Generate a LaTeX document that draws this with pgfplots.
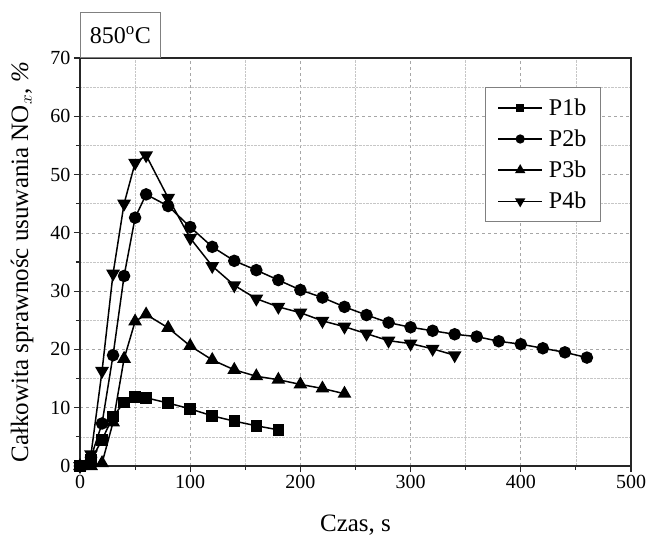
\documentclass[border=0pt]{standalone}
\usepackage{fontspec}
\setmainfont{Liberation Serif}
\usepackage{pgfplots}
\pgfplotsset{compat=1.18}
\usetikzlibrary{calc}

\begin{document}
\begin{tikzpicture}
\begin{axis}[
    scale only axis,
    width=551pt, height=408pt,
    xmin=0, xmax=500, ymin=0, ymax=70,
    xtick={0,100,...,500}, ytick={0,10,...,70},
    minor tick num=1,
    tick align=outside,
    xtick pos=left, ytick pos=left,
    major tick length=6pt, minor tick length=4pt,
    axis line style={line width=1.3pt, black!85},
    tick style={line width=1.1pt, black!85},
    grid=both,
    major grid style={dashed, gray!70, line width=0.7pt},
    minor grid style={densely dotted, gray!45, line width=0.6pt},
    /pgf/number format/assume math mode=true,
    tick label style={font=\fontsize{20}{24}\selectfont},
    xlabel={Czas, s},
    ylabel={Całkowita sprawnośc usuwania NO$_x$, \textit{\%}},
    label style={font=\fontsize{25}{29}\selectfont},
    xlabel style={at={(axis description cs:0.5,-0.145)}, anchor=center},
    ylabel style={at={(axis description cs:-0.105,0.5)}, anchor=center},
    legend style={at={(0.945,0.928)}, anchor=north east, draw=gray,
        line width=0.8pt, font=\fontsize{24}{28}\selectfont,
        row sep=9pt, inner xsep=12pt, inner ysep=9pt},
    legend cell align=left,
    legend image code/.code={
        \draw[#1, mark=none] (0pt,0pt) -- (44pt,0pt);
        \path[#1, every mark/.append style={scale=0.7}]
            plot coordinates {(22pt,0pt)};
        \path (48pt,0pt);},
    every axis plot/.append style={line width=1.5pt, black},
]
\coordinate (bl) at (rel axis cs:0,0);
\coordinate (tr) at (rel axis cs:1,1);
% P1b
\addplot[mark=square*, mark size=5pt, mark options={fill=black}] coordinates {
(0,0) (10,1) (20,4.5) (30,8.5) (40,10.9) (50,11.8) (60,11.7) (80,10.8)
(100,9.8) (120,8.6) (140,7.7) (160,6.9) (180,6.2)};
% P2b
\addplot[mark=*, mark size=5.5pt, mark options={fill=black}] coordinates {
(0,0) (10,1.5) (20,7.3) (30,19) (40,32.6) (50,42.6) (60,46.6) (80,44.6)
(100,41) (120,37.6) (140,35.2) (160,33.6) (180,31.9) (200,30.2) (220,28.9)
(240,27.3) (260,25.9) (280,24.6) (300,23.8) (320,23.2) (340,22.6) (360,22.2)
(380,21.4) (400,20.9) (420,20.2) (440,19.5) (460,18.6)};
% P3b
\addplot[mark=triangle*, mark size=6.5pt, mark options={fill=black}] coordinates {
(0,0) (10,0) (20,0.5) (30,7.5) (40,18.4) (50,24.8) (60,26) (80,23.7)
(100,20.6) (120,18.2) (140,16.5) (160,15.4) (180,14.8) (200,14) (220,13.3)
(240,12.4)};
% P4b
\addplot[mark=triangle*, mark size=6.5pt, mark options={fill=black, rotate=180}] coordinates {
(0,0) (10,2) (20,16.3) (30,33) (40,45) (50,52) (60,53.3) (80,46)
(100,39.1) (120,34.3) (140,31) (160,28.7) (180,27.3) (200,26.3) (220,24.9)
(240,23.9) (260,22.7) (280,21.5) (300,21) (320,20.1) (340,19)};
\legend{P1b, P2b, P3b, P4b}
\end{axis}
\node[draw=gray, line width=0.8pt, anchor=south west, minimum width=80pt,
    minimum height=45pt, inner sep=0pt, font=\fontsize{24}{28}\selectfont]
    at (bl |- tr) {850\textsuperscript{o}C};
\pgfresetboundingbox
\path[use as bounding box] ($(bl)+(-80pt,-76pt)$) rectangle ($(tr)+(20pt,58pt)$);
\end{tikzpicture}
\end{document}
